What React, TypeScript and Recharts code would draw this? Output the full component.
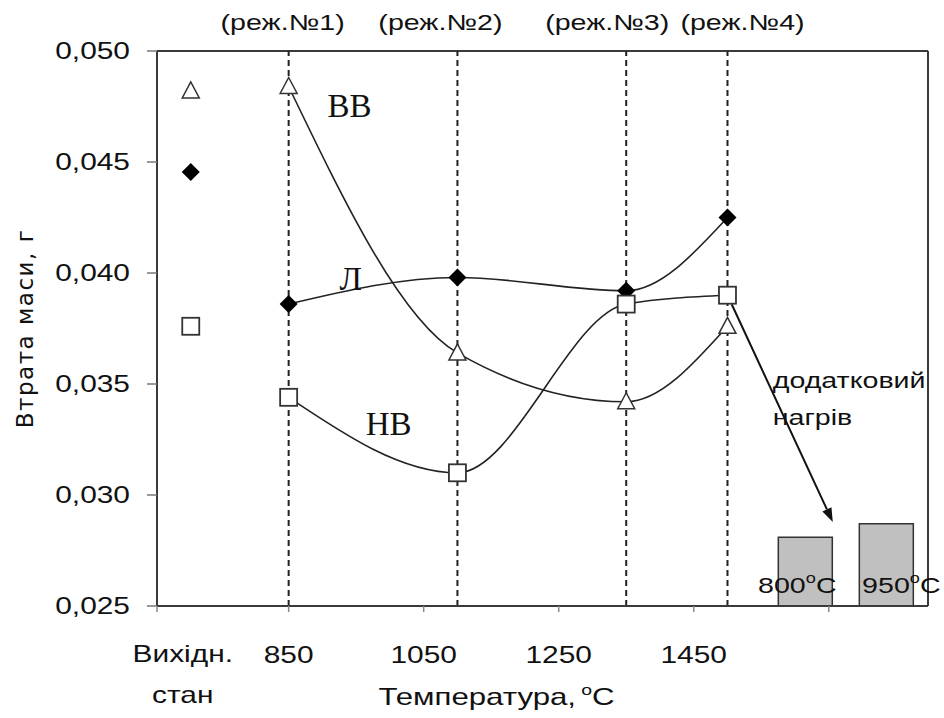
import React from 'react';
import {
  ComposedChart,
  Line,
  Scatter,
  Bar,
  XAxis,
  YAxis,
  ReferenceLine,
  ReferenceDot,
} from 'recharts';

// treatment regimes along the temperature axis
const regimeTemps = [850, 1100, 1350, 1500];
const regimeNames = ['(реж.№1)', '(реж.№2)', '(реж.№3)', '(реж.№4)'];

// mass loss, g
const lossVV = [0.0484, 0.0364, 0.0342, 0.0376];
const lossL = [0.0386, 0.0398, 0.0392, 0.0425];
const lossNV = [0.0344, 0.031, 0.0386, 0.039];

// initial state
const initialX = 705;
const initialVV = 0.0482;
const initialL = 0.04455;
const initialNV = 0.0376;

// additional heating
const extraHeatX = [1615, 1735];
const extraHeatTemps = ['800', '950'];
const extraHeatLoss = [0.0281, 0.0287];

const yTicks = [0.025, 0.03, 0.035, 0.04, 0.045, 0.05];
const xTicks = [655, initialX, 850, 1050, 1250, 1450, 1650];
const xLabelled = [850, 1050, 1250, 1450];

const toPoints = (vals: number[]) => regimeTemps.map((t, i) => ({ x: t, y: vals[i] }));
const barData = extraHeatX.map((x, i) => ({ x, loss: extraHeatLoss[i], temp: extraHeatTemps[i] }));

const SANS = 'Liberation Sans';
const SERIF = 'Liberation Serif';
const INK = '#111';
const AXIS = '#3a3a3a';

// wide sans text: Arial-like glyphs widened horizontally
const Wide = ({ x, y, anchor = 'middle', size = 22, children }: any) => (
  <text
    transform={`translate(${x} ${y}) scale(1.3 1)`}
    x={0}
    y={0}
    textAnchor={anchor}
    fill={INK}
    fontFamily={SANS}
    fontSize={size}
  >
    {children}
  </text>
);

const TriangleMark = ({ cx, cy }: any) => (
  <polygon
    points={`${cx},${cy - 9} ${cx - 8.5},${cy + 7} ${cx + 8.5},${cy + 7}`}
    fill="#fff"
    stroke="#333"
    strokeWidth={1.5}
  />
);

const DiamondMark = ({ cx, cy }: any) => (
  <polygon points={`${cx},${cy - 9} ${cx + 9},${cy} ${cx},${cy + 9} ${cx - 9},${cy}`} fill="#000" />
);

const SquareMark = ({ cx, cy }: any) => (
  <rect x={cx - 8.5} y={cy - 8.5} width={17} height={17} fill="#fff" stroke="#333" strokeWidth={1.8} />
);

const dotOf = (Mark: any) => (p: any) => <Mark key={p.index} cx={p.cx} cy={p.cy} />;

const fmt = (v: number) => v.toFixed(3).replace('.', ',');

const YTick = ({ x, y, payload }: any) => (
  <Wide x={x - 17} y={y + 8} anchor="end" size={23}>
    {fmt(payload.value)}
  </Wide>
);

const XTick = ({ x, y, payload }: any) => {
  const v = payload.value;
  if (v === initialX) {
    return (
      <g>
        <Wide x={x - 8} y={y + 56} size={23}>Вихідн.</Wide>
        <Wide x={x - 8} y={y + 97} size={23}>стан</Wide>
      </g>
    );
  }
  return (
    <g>
      <line x1={x} x2={x} y1={y} y2={y + 6} stroke="#888" strokeWidth={1.5} />
      {xLabelled.includes(v) && (
        <Wide x={x} y={y + 57} size={23}>{v}</Wide>
      )}
    </g>
  );
};

const XTitle = ({ viewBox }: any) => (
  <Wide x={viewBox.x + viewBox.width / 2 - 46} y={viewBox.y + 99} size={24}>
    Температура,
    <tspan dx={4} dy={-10} fontSize={15}>o</tspan>
    <tspan dy={10}>C</tspan>
  </Wide>
);

const ArrowShape = ({ x1, y1, x2, y2 }: any) => {
  const len = Math.hypot(x2 - x1, y2 - y1);
  const ux = (x2 - x1) / len;
  const uy = (y2 - y1) / len;
  const sx = x1 + ux * 10;
  const sy = y1 + uy * 10;
  const bx = x2 - ux * 14;
  const by = y2 - uy * 14;
  return (
    <g>
      <line x1={sx} y1={sy} x2={bx} y2={by} stroke="#111" strokeWidth={2} />
      <polygon
        points={`${x2},${y2} ${bx - uy * 5},${by + ux * 5} ${bx + uy * 5},${by - ux * 5}`}
        fill="#111"
      />
    </g>
  );
};

const barLabelShift = [-8, 15];

const BarTempLabel = ({ x, y, width, height, index }: any) => (
  <Wide x={x + width / 2 + barLabelShift[index]} y={y + height - 13} size={22}>
    {barData[index].temp}
    <tspan dy={-10} fontSize={14}>o</tspan>
    <tspan dy={10}>C</tspan>
  </Wide>
);

const regimeShift = [-6, -17, -19, 15];

const regimeLabel = (i: number) => ({ viewBox }: any) => (
  <Wide x={viewBox.x + regimeShift[i]} y={viewBox.y - 21} size={22}>
    {regimeNames[i]}
  </Wide>
);

const noteLabel = (text: string) => ({ viewBox }: any) => (
  <Wide x={viewBox.x} y={viewBox.y + 8} anchor="start" size={22}>
    {text}
  </Wide>
);

const captionStyle = { fontFamily: SERIF, fontSize: 33, fill: INK };

export default function App() {
  return (
    <div style={{ position: 'absolute', left: 0, top: 0, background: '#fff' }}>
      <ComposedChart
        width={944}
        height={718}
        data={barData}
        margin={{ top: 51, right: 16, bottom: 0, left: 0 }}
      >
        <XAxis
          dataKey="x"
          type="number"
          domain={[655, 1797]}
          ticks={xTicks}
          interval={0}
          tick={<XTick />}
          tickLine={false}
          tickSize={0}
          tickMargin={0}
          height={112}
          axisLine={{ stroke: AXIS, strokeWidth: 2 }}
          label={XTitle}
        />
        <YAxis
          type="number"
          domain={[0.025, 0.05]}
          ticks={yTicks}
          width={157}
          tick={<YTick />}
          tickSize={10}
          tickMargin={0}
          tickLine={{ stroke: '#777', strokeWidth: 1.5 }}
          axisLine={{ stroke: AXIS, strokeWidth: 2 }}
          label={{
            value: 'Втрата маси, г',
            angle: -90,
            position: 'insideLeft',
            offset: 25,
            style: { textAnchor: 'middle', fontFamily: 'DejaVu Sans', fontSize: 23, fill: INK, letterSpacing: 1.5 },
          }}
        />

        <ReferenceLine y={0.05} stroke={AXIS} strokeWidth={2} />
        <ReferenceLine x={1797} stroke={AXIS} strokeWidth={2} />

        {regimeTemps.map((t, i) => (
          <ReferenceLine
            key={t}
            x={t}
            stroke="#222"
            strokeWidth={2}
            strokeDasharray="6 4"
            label={regimeLabel(i)}
          />
        ))}

        <Bar
          dataKey="loss"
          barSize={54}
          fill="#c0c0c0"
          stroke="#333"
          strokeWidth={1.5}
          isAnimationActive={false}
          label={BarTempLabel}
        />

        <Line
          data={toPoints(lossVV)}
          dataKey="y"
          type="monotone"
          stroke="#222"
          strokeWidth={1.6}
          dot={dotOf(TriangleMark)}
          activeDot={false}
          isAnimationActive={false}
        />
        <Line
          data={toPoints(lossL)}
          dataKey="y"
          type="monotone"
          stroke="#222"
          strokeWidth={1.6}
          dot={dotOf(DiamondMark)}
          activeDot={false}
          isAnimationActive={false}
        />
        <Line
          data={toPoints(lossNV)}
          dataKey="y"
          type="monotone"
          stroke="#222"
          strokeWidth={1.6}
          dot={dotOf(SquareMark)}
          activeDot={false}
          isAnimationActive={false}
        />

        <Scatter data={[{ x: initialX, y: initialVV }]} dataKey="y" shape={TriangleMark} isAnimationActive={false} />
        <Scatter data={[{ x: initialX, y: initialL }]} dataKey="y" shape={DiamondMark} isAnimationActive={false} />
        <Scatter data={[{ x: initialX, y: initialNV }]} dataKey="y" shape={SquareMark} isAnimationActive={false} />

        <ReferenceDot x={940} y={0.04757} r={0} label={{ value: 'ВВ', position: 'center', style: captionStyle }} />
        <ReferenceDot x={942} y={0.03977} r={0} label={{ value: 'Л', position: 'center', style: captionStyle }} />
        <ReferenceDot x={998} y={0.03324} r={0} label={{ value: 'НВ', position: 'center', style: captionStyle }} />
        <ReferenceDot x={1567} y={0.03518} r={0} label={noteLabel('додатковий')} />
        <ReferenceDot x={1567} y={0.03351} r={0} label={noteLabel('нагрів')} />

        <ReferenceLine
          segment={[{ x: 1500, y: 0.039 }, { x: 1656, y: 0.02878 }]}
          shape={ArrowShape}
        />
      </ComposedChart>
    </div>
  );
}
